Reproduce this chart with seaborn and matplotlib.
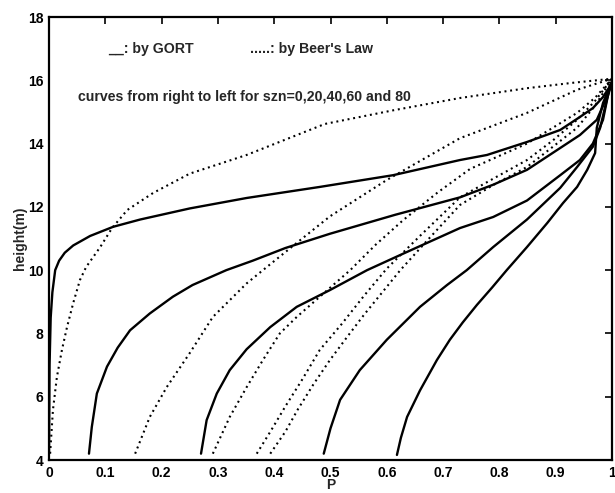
import matplotlib
matplotlib.use("Agg")
import matplotlib.pyplot as plt
import seaborn as sns
import pandas as pd

# Fraction P versus height, solid = GORT model, dotted = Beer's law,
# one curve per solar zenith angle (szn, degrees).
szn_values = [0, 20, 40, 60, 80]

gort_p = {
    0: [0.618, 0.625, 0.636, 0.659, 0.689, 0.712, 0.735, 0.76, 0.787, 0.813, 0.849,
        0.885, 0.913, 0.938, 0.956, 0.97, 0.973, 0.984, 0.996, 1.0],
    20: [0.488, 0.5, 0.517, 0.552, 0.6, 0.659, 0.707, 0.742, 0.789, 0.849, 0.908,
         0.938, 0.966, 0.979, 0.991, 1.0],
    40: [0.27, 0.28, 0.298, 0.321, 0.351, 0.393, 0.44, 0.499, 0.565, 0.629, 0.73,
         0.789, 0.849, 0.908, 0.943, 0.966, 0.984, 0.996, 1.0],
    60: [0.071, 0.076, 0.085, 0.103, 0.122, 0.144, 0.179, 0.22, 0.255, 0.315, 0.362,
         0.42, 0.499, 0.615, 0.73, 0.789, 0.849, 0.908, 0.943, 0.973, 0.991, 1.0],
    80: [0.0, 0.001, 0.003, 0.006, 0.011, 0.018, 0.028, 0.043, 0.073, 0.114, 0.162,
         0.25, 0.351, 0.481, 0.611, 0.73, 0.778, 0.849, 0.908, 0.943, 0.966, 0.984,
         0.996, 1.0],
}
gort_h = {
    0: [4.16, 4.7, 5.36, 6.2, 7.16, 7.8, 8.35, 8.9, 9.45, 10.0, 10.73,
        11.49, 12.12, 12.63, 13.17, 13.7, 14.5, 15.28, 15.8, 15.95],
    20: [4.2, 5.0, 5.9, 6.84, 7.8, 8.84, 9.53, 10.0, 10.73, 11.6, 12.6,
         13.26, 13.9, 14.5, 15.4, 15.95],
    40: [4.2, 5.26, 6.1, 6.84, 7.5, 8.2, 8.84, 9.37, 10.0, 10.52, 11.33,
         11.68, 12.2, 13.0, 13.48, 14.0, 14.75, 15.8, 15.95],
    60: [4.2, 5.04, 6.1, 6.95, 7.55, 8.1, 8.63, 9.16, 9.53, 10.0, 10.3,
         10.7, 11.15, 11.75, 12.3, 12.7, 13.17, 13.86, 14.27, 14.75, 15.47, 15.95],
    80: [4.2, 7.0, 8.5, 9.3, 10.0, 10.3, 10.55, 10.78, 11.08, 11.37, 11.6,
         11.95, 12.28, 12.63, 13.0, 13.48, 13.64, 14.05, 14.43, 14.84, 15.12, 15.47,
         15.8, 15.95],
}

beer_p = {
    0: [0.393, 0.42, 0.442, 0.47, 0.499, 0.53, 0.56, 0.592, 0.624, 0.675, 0.73,
        0.79, 0.849, 0.895, 0.938, 0.97, 1.0],
    20: [0.369, 0.395, 0.42, 0.45, 0.481, 0.52, 0.56, 0.6, 0.66, 0.73, 0.79,
         0.849, 0.895, 0.938, 0.97, 1.0],
    40: [0.291, 0.321, 0.351, 0.38, 0.41, 0.44, 0.481, 0.535, 0.58, 0.629, 0.69,
         0.748, 0.849, 0.938, 0.97, 1.0],
    60: [0.153, 0.179, 0.209, 0.25, 0.291, 0.351, 0.38, 0.44, 0.499, 0.6, 0.73,
         0.849, 0.938, 1.0],
    80: [0.002, 0.007, 0.014, 0.023, 0.032, 0.043, 0.055, 0.066, 0.091, 0.112,
         0.139, 0.185, 0.25, 0.351, 0.49, 0.611, 0.73, 0.849, 0.93, 1.0],
}
beer_h = {
    0: [4.2, 4.9, 5.6, 6.4, 7.16, 7.9, 8.6, 9.3, 10.0, 11.0, 12.06,
        12.7, 13.26, 13.9, 14.5, 15.2, 16.05],
    20: [4.2, 4.95, 5.7, 6.55, 7.48, 8.3, 9.2, 10.05, 11.1, 12.3, 12.9,
         13.48, 14.1, 14.75, 15.35, 16.05],
    40: [4.2, 5.36, 6.3, 7.16, 8.0, 8.52, 9.16, 10.0, 10.8, 11.58, 12.45,
         13.2, 14.0, 14.97, 15.45, 16.05],
    60: [4.2, 5.36, 6.3, 7.38, 8.52, 9.58, 10.0, 10.86, 11.7, 12.85, 14.17,
         14.97, 15.7, 16.05],
    80: [4.2, 5.58, 6.62, 7.48, 8.2, 8.96, 9.69, 10.1, 10.73, 11.33,
         11.9, 12.44, 13.05, 13.64, 14.62, 15.05, 15.44, 15.75, 15.92, 16.05],
}

x_ticks = [0, 0.1, 0.2, 0.3, 0.4, 0.5, 0.6, 0.7, 0.8, 0.9, 1]
x_tick_labels = ["0", "0.1", "0.2", "0.3", "0.4", "0.5", "0.6", "0.7", "0.8", "0.9", "1"]
y_ticks = [4, 6, 8, 10, 12, 14, 16, 18]

sns.set_style("white")
plt.rcParams["font.family"] = ["Liberation Sans", "DejaVu Sans"]
plt.rcParams["font.weight"] = "bold"
plt.rcParams["lines.scale_dashes"] = False

fig = plt.figure(figsize=(6.15, 4.93), dpi=100)
ax = fig.add_axes([49 / 615, 1 - 460 / 493, 563 / 615, 443 / 493])

rows = []
for s in szn_values:
    for p, h in zip(gort_p[s], gort_h[s]):
        rows.append({"model": "GORT", "szn": s, "P": p, "height": h})
    for p, h in zip(beer_p[s], beer_h[s]):
        rows.append({"model": "Beer", "szn": s, "P": p, "height": h})
df = pd.DataFrame(rows)

for (model, s), grp in df.groupby(["model", "szn"], sort=False):
    n_before = len(ax.lines)
    sns.lineplot(data=grp, x="P", y="height", sort=False, estimator=None,
                 color="black", linewidth=1.7 if model == "GORT" else 1.5, ax=ax)
    if model == "Beer":
        # sparse square dots, as in a MATLAB ':' line
        for line in ax.lines[n_before:]:
            line.set_linestyle((0, (1.4, 2.7)))
            line.set_dash_capstyle("butt")

ax.set_xlim(0, 1)
ax.set_ylim(4, 18)
ax.set_xticks(x_ticks)
ax.set_xticklabels(x_tick_labels)
ax.set_yticks(y_ticks)
ax.tick_params(direction="in", length=5, width=1.2, top=True, right=True,
               labeltop=False, labelright=False, labelsize=10, pad=4,
               colors="black")
for sp in ax.spines.values():
    sp.set_visible(True)
    sp.set_linewidth(1.6)
    sp.set_color("black")

ax.set_xlabel("P", fontsize=10, fontweight="bold", labelpad=-1)
ax.set_ylabel("height(m)", fontsize=10, fontweight="bold", labelpad=1)

ax.text(0.105, 16.98, "__: by GORT", fontsize=10.2, fontweight="bold", va="center")
ax.text(0.357, 16.98, ".....: by Beer's Law", fontsize=10.2, fontweight="bold", va="center")
ax.text(0.052, 15.48, "curves from right to left for szn=0,20,40,60 and 80",
        fontsize=10.2, fontweight="bold", va="center")

fig.savefig("out.png", dpi=100)
